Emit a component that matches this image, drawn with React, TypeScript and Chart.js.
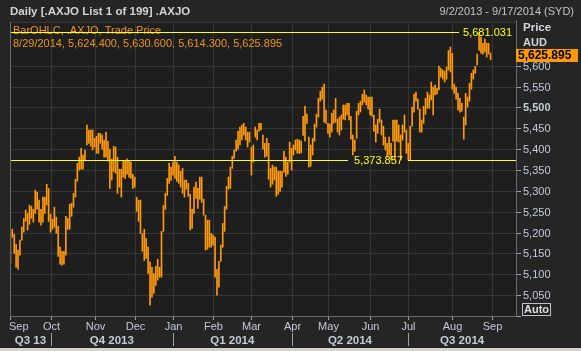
import React, { useEffect, useRef } from 'react';
import { Chart, registerables } from 'chart.js';

Chart.register(...registerables);

// ---- data ----
const monthLabels = ['Sep', 'Oct', 'Nov', 'Dec', 'Jan', 'Feb', 'Mar', 'Apr', 'May', 'Jun', 'Jul', 'Aug', 'Sep'];
const monthTradingDays = [21, 23, 21, 20, 21, 20, 21, 19, 22, 20, 23, 21, 13];
const quarterLabels = ['Q3 13', 'Q4 2013', 'Q1 2014', 'Q2 2014', 'Q3 2014'];
const quarterFirstMonth = [0, 1, 4, 7, 10];
const yTicks = [5050, 5100, 5150, 5200, 5250, 5300, 5350, 5400, 5450, 5500, 5550, 5600];

const highs = [
  // Sep 2013
  5191, 5208, 5196, 5172, 5158, 5182, 5213, 5234, 5254, 5246, 5266, 5263, 5256, 5302, 5297, 5278, 5256, 5285, 5285, 5316, 5306,
  // Oct
  5244, 5232, 5261, 5237, 5215, 5165, 5155, 5155, 5239, 5234, 5268, 5270, 5294, 5328, 5366, 5381, 5402, 5386, 5398, 5458, 5446, 5446, 5446,
  // Nov
  5426, 5431, 5438, 5438, 5434, 5422, 5441, 5419, 5400, 5376, 5407, 5405, 5381, 5352, 5352, 5371, 5371, 5376, 5371, 5369, 5340,
  // Dec
  5333, 5285, 5278, 5278, 5198, 5208, 5186, 5165, 5129, 5117, 5102, 5119, 5136, 5117, 5203, 5265, 5294, 5330, 5366, 5357,
  // Jan 2014
  5369, 5383, 5369, 5362, 5347, 5354, 5326, 5326, 5318, 5292, 5256, 5309, 5321, 5306, 5333, 5333, 5280, 5242, 5230, 5230, 5198,
  // Feb
  5194, 5189, 5112, 5131, 5170, 5222, 5263, 5311, 5333, 5357, 5383, 5398, 5422, 5443, 5453, 5458, 5462, 5453, 5441, 5441,
  // Mar
  5405, 5410, 5453, 5446, 5462, 5462, 5434, 5414, 5426, 5414, 5354, 5362, 5357, 5357, 5347, 5347, 5347, 5395, 5381, 5369, 5417,
  // Apr
  5402, 5410, 5422, 5424, 5422, 5420, 5479, 5503, 5484, 5429, 5410, 5426, 5460, 5484, 5522, 5539, 5549, 5556, 5494,
  // May
  5462, 5460, 5486, 5494, 5522, 5472, 5477, 5482, 5506, 5506, 5510, 5510, 5479, 5434, 5422, 5491, 5510, 5515, 5532, 5542, 5530, 5525,
  // Jun
  5525, 5525, 5482, 5458, 5472, 5496, 5470, 5455, 5429, 5414, 5429, 5414, 5470, 5470, 5470, 5458, 5434, 5458, 5482, 5446,
  // Jul
  5414, 5455, 5501, 5532, 5537, 5520, 5496, 5470, 5503, 5522, 5537, 5530, 5561, 5549, 5554, 5546, 5599, 5594, 5590, 5587, 5597, 5637, 5645,
  // Aug
  5630, 5556, 5549, 5534, 5522, 5510, 5477, 5534, 5525, 5558, 5582, 5590, 5599, 5628, 5681.031, 5669, 5654, 5664, 5654, 5654, 5630.6,
];

const lows = [
  // Sep 2013
  5126, 5189, 5150, 5117, 5112, 5146, 5182, 5201, 5227, 5206, 5220, 5234, 5225, 5246, 5256, 5225, 5218, 5225, 5246, 5266, 5227,
  // Oct
  5201, 5208, 5213, 5198, 5143, 5124, 5122, 5124, 5146, 5208, 5208, 5239, 5261, 5285, 5323, 5350, 5352, 5352, 5374, 5410, 5414, 5407, 5398,
  // Nov
  5405, 5390, 5390, 5414, 5400, 5381, 5381, 5371, 5306, 5326, 5347, 5342, 5294, 5309, 5285, 5333, 5330, 5340, 5333, 5330, 5306,
  // Dec
  5309, 5251, 5227, 5198, 5155, 5133, 5138, 5102, 5026, 5045, 5054, 5073, 5086, 5093, 5093, 5203, 5256, 5289, 5318, 5325,
  // Jan 2014
  5338, 5330, 5323, 5318, 5309, 5294, 5285, 5304, 5287, 5206, 5210, 5246, 5282, 5258, 5280, 5273, 5242, 5158, 5160, 5165, 5165,
  // Feb
  5170, 5093, 5050, 5069, 5131, 5165, 5203, 5256, 5304, 5306, 5354, 5378, 5395, 5400, 5410, 5422, 5434, 5422, 5405, 5417,
  // Mar
  5338, 5369, 5429, 5422, 5443, 5446, 5400, 5381, 5383, 5328, 5309, 5316, 5326, 5287, 5292, 5299, 5309, 5345, 5335, 5340, 5369,
  // Apr
  5350, 5386, 5398, 5390, 5390, 5391, 5433, 5419, 5462, 5357, 5359, 5386, 5419, 5453, 5477, 5515, 5520, 5465, 5462,
  // May
  5438, 5429, 5441, 5462, 5465, 5441, 5434, 5446, 5472, 5470, 5482, 5470, 5424, 5386, 5395, 5426, 5482, 5489, 5506, 5513, 5506, 5496,
  // Jun
  5482, 5479, 5443, 5417, 5438, 5465, 5434, 5410, 5398, 5381, 5386, 5374, 5419, 5376, 5419, 5417, 5374, 5422, 5441, 5390,
  // Jul
  5374, 5374, 5455, 5489, 5515, 5496, 5441, 5441, 5462, 5484, 5498, 5498, 5518, 5482, 5530, 5532, 5542, 5573, 5568, 5561, 5568, 5590, 5585,
  // Aug
  5544, 5534, 5520, 5494, 5489, 5491, 5424, 5458, 5501, 5515, 5544, 5568, 5582, 5602, 5637, 5630, 5628, 5633, 5621, 5628, 5614.3,
];

const lastBarDate = '8/29/2014';
const lastBarOHLC = [5624.4, 5630.6, 5614.3, 5625.895];
const highLineValue = 5681.031;
const lowLineValue = 5373.857;

const TITLE = 'Daily [.AXJO List 1 of 199] .AXJO';
const DATE_RANGE = '9/2/2013 - 9/17/2014 (SYD)';
const SERIES_NAME = 'BarOHLC, .AXJO, Trade Price';

const ORANGE = '#ff9a0a';
const YELLOW = '#ffff1a';
const AXIS_TEXT = '#c3cbd8';
const FONT = '"Liberation Sans", Arial, sans-serif';

const fmt = (v: number, d: number) =>
  v.toLocaleString('en-US', { minimumFractionDigits: d, maximumFractionDigits: d });

export default function App() {
  const ref = useRef<HTMLCanvasElement>(null);

  useEffect(() => {
    document.body.style.margin = '0';
    document.body.style.background = '#d6d3cb';
    document.body.style.overflow = 'hidden';
    const canvas = ref.current;
    if (!canvas) return;

    const monthStarts: number[] = [];
    let acc = 0;
    monthTradingDays.forEach((d) => {
      monthStarts.push(acc);
      acc += d;
    });
    const totalDays = acc;

    const decor = {
      id: 'decor',
      beforeDraw(chart: any) {
        const { ctx, chartArea: a } = chart;
        ctx.save();
        ctx.fillStyle = '#d6d3cb';
        ctx.fillRect(0, 0, 581, 351);
        ctx.fillStyle = '#252525';
        ctx.fillRect(0, 0, 581, 348);
        ctx.fillStyle = '#1e1e1e';
        ctx.fillRect(a.left, a.top, a.right - a.left, a.bottom - a.top);
        ctx.restore();
      },
      beforeDatasetsDraw(chart: any) {
        const { ctx, chartArea: a, scales } = chart;
        const xs = scales.x, ys = scales.y;
        ctx.save();
        ctx.strokeStyle = '#363636';
        ctx.lineWidth = 1;
        ctx.beginPath();
        yTicks.forEach((v) => {
          const y = Math.round(ys.getPixelForValue(v)) + 0.5;
          ctx.moveTo(a.left, y);
          ctx.lineTo(a.right, y);
        });
        monthStarts.forEach((s, m) => {
          if (m === 0) return;
          const x = Math.round(xs.getPixelForValue(s)) + 0.5;
          ctx.moveTo(x, a.top);
          ctx.lineTo(x, a.bottom);
        });
        ctx.stroke();
        ctx.beginPath();
        ctx.moveTo(a.left, a.top + 0.5);
        ctx.lineTo(a.right, a.top + 0.5);
        ctx.stroke();
        ctx.restore();
      },
      afterDatasetsDraw(chart: any) {
        const { ctx, chartArea: a, scales } = chart;
        const ys = scales.y;
        ctx.save();

        // legend texts
        ctx.font = `11px ${FONT}`;
        ctx.fillStyle = '#f0961c';
        ctx.textBaseline = 'middle';
        ctx.textAlign = 'left';
        ctx.fillText(SERIES_NAME, 13, 31);
        ctx.fillText(
          `${lastBarDate}, ${fmt(lastBarOHLC[0], 3)}, ${fmt(lastBarOHLC[1], 3)}, ${fmt(lastBarOHLC[2], 3)}, ${fmt(lastBarOHLC[3], 3)}`,
          13,
          43.5
        );

        // high line
        ctx.strokeStyle = YELLOW;
        ctx.fillStyle = YELLOW;
        ctx.lineWidth = 1;
        const yh = Math.round(ys.getPixelForValue(highLineValue)) + 0.5;
        ctx.beginPath();
        ctx.moveTo(a.left, yh);
        ctx.lineTo(459, yh);
        ctx.stroke();
        ctx.font = `11px ${FONT}`;
        ctx.textAlign = 'right';
        ctx.fillText(fmt(highLineValue, 3), 512, yh);

        // low line
        const yl = Math.round(ys.getPixelForValue(lowLineValue)) + 0.5;
        ctx.beginPath();
        ctx.moveTo(a.left, yl);
        ctx.lineTo(348, yl);
        ctx.moveTo(408, yl);
        ctx.lineTo(a.right, yl);
        ctx.stroke();
        ctx.textAlign = 'center';
        ctx.fillText(fmt(lowLineValue, 3), 378.5, yl);

        ctx.restore();
      },
      afterDraw(chart: any) {
        const { ctx, chartArea: a, scales } = chart;
        const xs = scales.x, ys = scales.y;
        ctx.save();
        ctx.textBaseline = 'middle';

        // title + date range
        ctx.font = `bold 11.5px ${FONT}`;
        ctx.fillStyle = '#d4d4d4';
        ctx.textAlign = 'left';
        ctx.fillText(TITLE, 10, 12);
        ctx.font = `11px ${FONT}`;
        ctx.fillStyle = '#c4c4c4';
        ctx.textAlign = 'right';
        ctx.fillText(DATE_RANGE, 574, 12);

        // axis frame lines
        ctx.strokeStyle = '#6a6a6a';
        ctx.lineWidth = 1;
        ctx.beginPath();
        ctx.moveTo(a.left + 0.5, a.top);
        ctx.lineTo(a.left + 0.5, a.bottom + 1);
        ctx.moveTo(a.left, a.bottom + 0.5);
        ctx.lineTo(a.right + 1, a.bottom + 0.5);
        ctx.moveTo(a.right + 0.5, a.top - 2);
        ctx.lineTo(a.right + 0.5, a.bottom + 1);
        ctx.stroke();

        // right axis ticks + labels
        ctx.strokeStyle = '#9aa2ae';
        ctx.fillStyle = AXIS_TEXT;
        ctx.textAlign = 'left';
        yTicks.forEach((v) => {
          const y = Math.round(ys.getPixelForValue(v)) + 0.5;
          ctx.beginPath();
          ctx.moveTo(a.right + 1, y);
          ctx.lineTo(a.right + 5, y);
          ctx.stroke();
          ctx.font = v === 5500 ? `bold 11px ${FONT}` : `11px ${FONT}`;
          ctx.fillText(fmt(v, 0), a.right + 7, y);
        });
        ctx.beginPath();
        ctx.moveTo(a.right + 1, a.bottom + 0.5);
        ctx.lineTo(a.right + 5, a.bottom + 0.5);
        ctx.stroke();

        // Price / AUD
        ctx.fillStyle = '#d2d6de';
        ctx.font = `bold 11.5px ${FONT}`;
        ctx.fillText('Price', a.right + 7, 28);
        ctx.font = `bold 11px ${FONT}`;
        ctx.fillText('AUD', a.right + 7, 43);

        // last price box
        const yc = ys.getPixelForValue(lastBarOHLC[3]);
        ctx.fillStyle = '#ff9900';
        ctx.fillRect(a.right, Math.round(yc) - 6, 62, 13);
        ctx.fillStyle = '#000';
        ctx.font = `bold 12px ${FONT}`;
        ctx.fillText(fmt(lastBarOHLC[3], 3), a.right + 2, Math.round(yc) + 0.5);

        // Auto box
        ctx.strokeStyle = '#bfc4cc';
        ctx.strokeRect(522.5, 303.5, 28, 12);
        ctx.fillStyle = '#dcdfe4';
        ctx.font = `bold 11px ${FONT}`;
        ctx.textAlign = 'center';
        ctx.fillText('Auto', 536.5, 310);

        // month ticks + labels
        ctx.strokeStyle = '#9aa2ae';
        ctx.fillStyle = AXIS_TEXT;
        ctx.font = `11px ${FONT}`;
        monthStarts.forEach((s, m) => {
          const x = Math.round(xs.getPixelForValue(s)) + 0.5;
          ctx.beginPath();
          ctx.moveTo(x, a.bottom + 1);
          ctx.lineTo(x, a.bottom + 4);
          ctx.stroke();
          if (m === 0) {
            ctx.textAlign = 'left';
            ctx.fillText(monthLabels[m], x - 1.5, 327);
          } else {
            ctx.textAlign = 'center';
            ctx.fillText(monthLabels[m], x, 327);
          }
        });

        // quarter labels + separators
        ctx.font = `bold 11.5px ${FONT}`;
        quarterFirstMonth.forEach((fm, q) => {
          const startIdx = monthStarts[fm];
          const endIdx = q + 1 < quarterFirstMonth.length ? monthStarts[quarterFirstMonth[q + 1]] : totalDays;
          const x0 = Math.max(xs.getPixelForValue(startIdx), a.left);
          const x1 = Math.min(xs.getPixelForValue(endIdx), a.right);
          ctx.textAlign = 'center';
          ctx.fillText(quarterLabels[q], (x0 + x1) / 2, 340.5);
          if (q > 0) {
            const xx = Math.round(x0) + 0.5;
            ctx.beginPath();
            ctx.moveTo(xx, 333);
            ctx.lineTo(xx, 346);
            ctx.stroke();
          }
        });

        ctx.restore();
      },
    };

    const chart = new Chart(canvas, {
      type: 'bar',
      data: {
        datasets: [
          {
            data: highs.map((h, i) => ({ x: i, y: [lows[i], h] })) as any,
            backgroundColor: ORANGE,
            borderWidth: 0,
            barThickness: 1,
          },
        ],
      },
      options: {
        responsive: false,
        animation: false,
        devicePixelRatio: 1,
        layout: { padding: { left: 10, top: 22, right: 65, bottom: 35 } },
        scales: {
          x: { type: 'linear', display: false, offset: false, min: -0.2, max: totalDays - 0.7, grid: { offset: false } },
          y: { type: 'linear', display: false, min: 5000, max: 5705 },
        },
        plugins: { legend: { display: false }, tooltip: { enabled: false } },
      },
      plugins: [decor],
    });

    return () => chart.destroy();
  }, []);

  return (
    <div style={{ width: 581, height: 351 }}>
      <canvas ref={ref} width={581} height={351} style={{ display: 'block' }} />
    </div>
  );
}
